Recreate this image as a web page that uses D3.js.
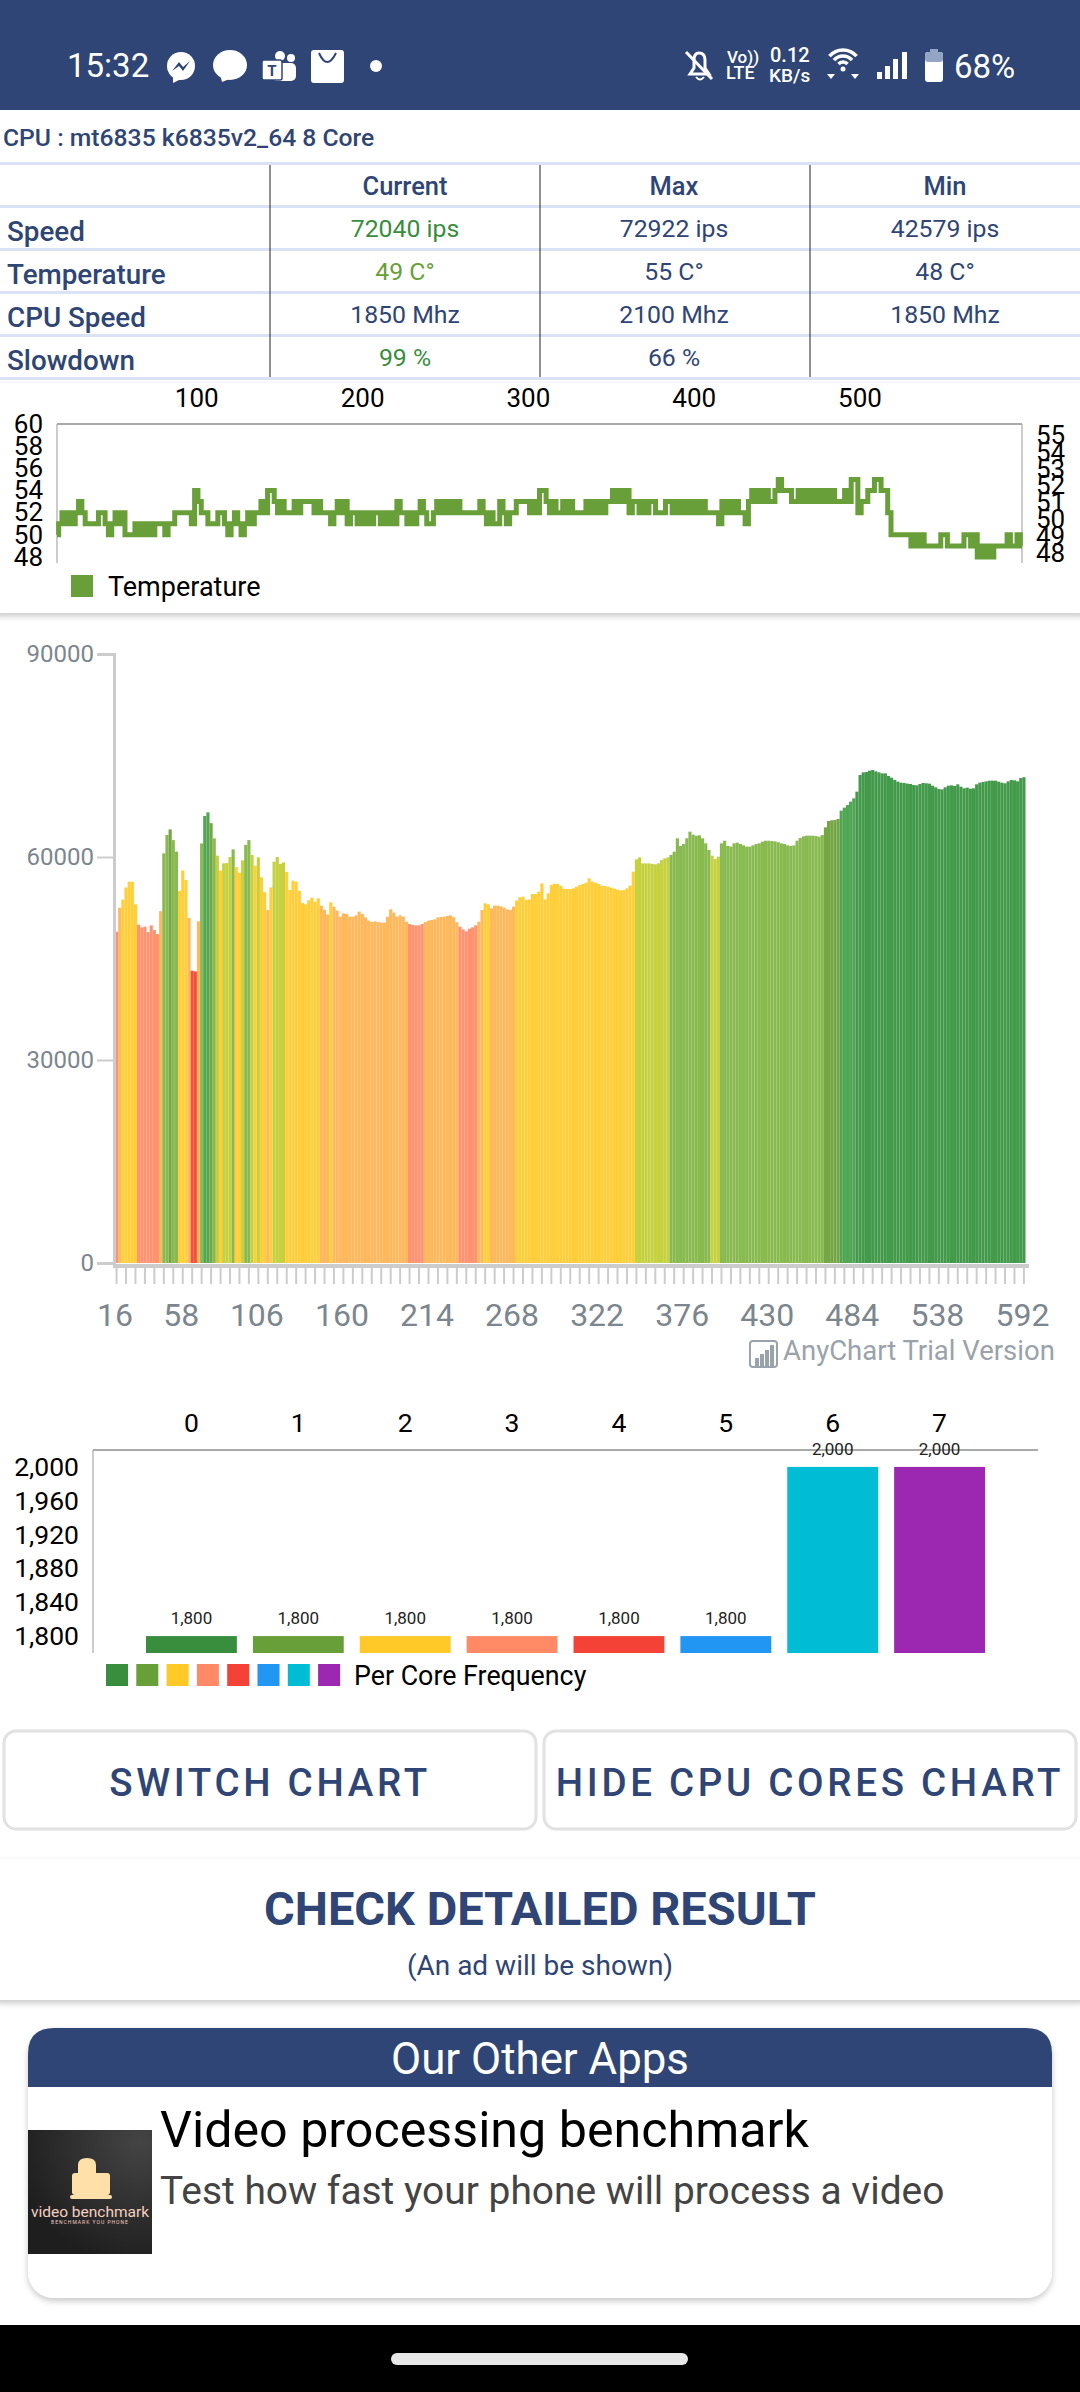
<!DOCTYPE html>
<html>
<head>
<meta charset="utf-8">
<script src="https://cdnjs.cloudflare.com/ajax/libs/d3/7.8.5/d3.min.js"></script>
<style>
  html, body { margin: 0; padding: 0; background: #fff; }
  svg { display: block; }
  text { font-family: Roboto, sans-serif; }
</style>
</head>
<body>
<svg id="page" width="1080" height="2392"></svg>
<script>
// table
const tableColumns = ['Current', 'Max', 'Min'];
const tableRows = ['Speed', 'Temperature', 'CPU Speed', 'Slowdown'];
const tableCurrent = ['72040 ips', '49 C°', '1850 Mhz', '99 %'];
const tableMax = ['72922 ips', '55 C°', '2100 Mhz', '66 %'];
const tableMin = ['42579 ips', '48 C°', '1850 Mhz', ''];

// temperature, one sample every 2 test steps from step 16
const tempValues = [
  50,51,52,51,52,51,52,53,52,51,51,51,51,52,52,51,50,51,52,51,
  52,50,50,50,51,50,51,50,51,50,51,51,51,50,51,51,52,52,52,52,
  52,51,54,53,52,52,51,51,51,52,52,51,50,51,52,51,50,51,52,51,
  52,52,53,52,54,54,53,52,53,52,52,52,53,52,53,53,53,53,52,53,
  52,52,52,51,52,53,52,53,51,52,52,51,52,51,52,51,52,52,
  51,52,51,52,51,53,52,52,51,52,51,52,53,52,51,51,52,53,52,53,
  52,53,52,53,52,52,52,52,52,52,53,52,51,52,51,51,53,52,51,52,
  52,53,53,53,53,52,53,52,54,54,53,52,53,52,52,53,52,53,52,52,
  52,52,53,52,53,52,53,52,53,53,54,53,54,53,54,52,53,53,52,53,
  52,53,53,52,52,52,53,53,52,53,52,53,52,53,52,53,52,53,52,52,
  52,52,51,53,52,53,52,53,52,52,51,53,54,53,54,53,54,53,53,54,
  55,54,54,54,53,53,54,53,54,53,54,53,54,53,54,53,54,53,53,53,
  54,53,55,55,52,53,53,54,54,55,55,54,54,52,50,50,50,50,50,50,
  49,50,49,50,49,49,49,49,49,50,50,49,49,49,49,49,50,50,49,50,
  48,49,48,49,48,49,49,49,49,50,49,49,50,49
];
const tempTicks = [100, 200, 300, 400, 500];
const tempLeftTicks = [60, 58, 56, 54, 52, 50, 48];
const tempRightTicks = [55, 54, 53, 52, 51, 50, 49, 48];

// speed in ips, one bar every 2 test steps from step 16
const speedValues = [
  48960,52500,53700,55500,56350,56350,53000,50000,49600,49700,
  48900,49900,49200,48600,52000,60540,63250,64080,62500,60800,
  55000,58000,56600,51000,43200,43100,50500,62000,66060,66600,
  65000,62750,60200,58000,59060,59100,60000,61130,58500,57680,
  59500,61800,62500,60290,58700,59950,57000,54800,52160,55500,
  59310,60000,59000,59200,57800,55120,56500,56350,55000,53200,
  53000,53600,54000,53400,53900,52800,52200,51500,
  53300,52660,52070,51180,51670,51580,51180,51180,51380,51920,
  51580,51080,50590,50400,50490,50400,50300,50300,51180,52270,
  51770,51180,51380,51180,50440,50100,49950,49900,49900,50100,
  50400,50590,50690,50790,51080,51130,51180,51280,51380,51080,
  50350,49700,49310,49010,49410,49600,49900,50440,52170,53150,
  53000,52410,52810,52810,52710,52510,52270,52170,52660,53550,
  54040,54140,53650,53740,54530,54530,54880,56100,53740,54630,
  55860,56060,56010,55720,55320,55270,55270,55370,55620,55860,
  56010,56210,
  56850,56350,56210,56010,55760,55710,55620,55470,55320,55170,
  55070,55120,55370,55760,57830,59650,59950,59060,59060,59060,
  58960,58920,59060,59560,59800,59950,60300,60790,62760,61630,
  61920,62760,63740,63300,63150,63200,62760,62020,61030,60200,
  59700,60050,62020,62410,61630,61530,62020,62120,61920,61720,
  61530,61530,61720,61920,62020,62270,62410,62410,62360,62310,
  62170,62020,61920,61720,61630,61720,62410,62810,63050,63150,
  63150,63150,63100,63000,63250,64380,65320,65420,65470,65620,
  66850,67290,67680,68180,68670,69660,72120,72510,72560,72760,
  72860,72660,72510,72360,72360,71970,71720,71380,71130,70980,
  70940,70840,70790,70640,70590,70790,70940,70890,70840,70540,
  70300,70050,70000,70300,70540,70590,70490,70740,70390,70150,
  70250,70100,70150,70740,70980,71080,71180,71280,71280,71280,
  71130,70980,70890,71180,71380,71330,71180,71670,71800
];
const speedSteps = speedValues.map((v, i) => 16 + i * 2);
const speedTicks = [0, 30000, 60000, 90000];
const speedLabels = [16, 58, 106, 160, 214, 268, 322, 376, 430, 484, 538, 592];
const speedBandLimits = [45000, 50200, 53000, 58800, 60300, 64000, 66000, 69600];

// per core
const coreIds = ['0', '1', '2', '3', '4', '5', '6', '7'];
const coreFreq = [1800, 1800, 1800, 1800, 1800, 1800, 2000, 2000];
const coreTicks = [1800, 1840, 1880, 1920, 1960, 2000];

const navy = '#2f4575';
const coreColors = ['#388e3c', '#689f38', '#ffca28', '#ff8a65', '#f44336', '#2196f3', '#00bcd4', '#9c27b0'];
const bandColors = ['#f44f3c', '#ff9270', '#ffb95c', '#ffce38', '#c6d140', '#88ba50', '#74a645', '#4fa653', '#439a4b'];

const svg = d3.select('#page');

function label(g, x, y, str, size, opts = {}) {
  return g.append('text')
    .attr('x', x).attr('y', y)
    .attr('font-size', size)
    .attr('font-weight', opts.weight || 400)
    .attr('fill', opts.fill || '#000')
    .attr('text-anchor', opts.anchor || 'start')
    .attr('letter-spacing', opts.spacing || null)
    .text(str);
}

const defs = svg.append('defs');
const shadow = defs.append('filter').attr('id', 'shadow')
  .attr('x', '-5%').attr('y', '-10%').attr('width', '110%').attr('height', '125%');
shadow.append('feDropShadow')
  .attr('dx', 0).attr('dy', 3).attr('stdDeviation', 3)
  .attr('flood-color', '#000').attr('flood-opacity', 0.22);

const thumbGrad = defs.append('radialGradient').attr('id', 'thumb').attr('cx', '90%').attr('cy', '10%').attr('r', '100%');
thumbGrad.append('stop').attr('offset', '0%').attr('stop-color', '#444');
thumbGrad.append('stop').attr('offset', '100%').attr('stop-color', '#1e1e1e');

drawStatusBar();
drawTable();
drawTemperature();
drawSpeed();
drawCores();
drawFooter();

function drawStatusBar() {
  const g = svg.append('g');
  g.append('rect').attr('width', 1080).attr('height', 110).attr('fill', navy);
  label(g, 67, 77, '15:32', 33, { fill: '#fff' });

  // messenger
  g.append('circle').attr('cx', 181).attr('cy', 66).attr('r', 14).attr('fill', '#fff');
  g.append('path').attr('d', 'M172,71 L179,62 L183,67 L190,61 L183,71 L179,66 Z').attr('fill', navy);
  g.append('path').attr('d', 'M173,76 L173,83 L181,79 Z').attr('fill', '#fff');
  // bubble
  g.append('ellipse').attr('cx', 230).attr('cy', 65).attr('rx', 17).attr('ry', 15).attr('fill', '#fff');
  g.append('path').attr('d', 'M220,74 L222,82 L232,78 Z').attr('fill', '#fff');
  // teams
  g.append('circle').attr('cx', 280).attr('cy', 56).attr('r', 5).attr('fill', '#fff');
  g.append('circle').attr('cx', 291).attr('cy', 58).attr('r', 4).attr('fill', '#fff');
  g.append('rect').attr('x', 272).attr('y', 63).attr('width', 24).attr('height', 18).attr('rx', 5).attr('fill', '#fff');
  g.append('rect').attr('x', 262).attr('y', 60).attr('width', 20).attr('height', 20).attr('rx', 2).attr('fill', '#fff').attr('stroke', navy).attr('stroke-width', 1.5);
  label(g, 272, 76, 'T', 15, { fill: navy, weight: 700, anchor: 'middle' });
  // store bag
  g.append('rect').attr('x', 311).attr('y', 50).attr('width', 33).attr('height', 33).attr('rx', 3).attr('fill', '#fff');
  g.append('path').attr('d', 'M319,53 Q327,71 336,53').attr('fill', 'none').attr('stroke', navy).attr('stroke-width', 2);
  // dot
  g.append('circle').attr('cx', 376).attr('cy', 66).attr('r', 6).attr('fill', '#fff');

  // muted bell
  g.append('path').attr('d', 'M690,74 L694,68 L694,60 Q694,53 699,53 Q705,53 705,60 L705,68 L709,74 Z')
    .attr('fill', 'none').attr('stroke', '#fff').attr('stroke-width', 3);
  g.append('line').attr('x1', 686).attr('y1', 52).attr('x2', 712).attr('y2', 79).attr('stroke', '#fff').attr('stroke-width', 3);
  g.append('path').attr('d', 'M696,77 Q700,82 704,77').attr('fill', 'none').attr('stroke', '#fff').attr('stroke-width', 2);

  label(g, 727, 63, 'Vo))', 17, { fill: '#fff', weight: 500 });
  label(g, 726, 79, 'LTE', 18, { fill: '#fff', weight: 500 });
  label(g, 770, 62, '0.12', 20, { fill: '#fff', weight: 500 });
  label(g, 769, 82, 'KB/s', 19, { fill: '#fff', weight: 500 });

  // wifi
  [[843, 68, 6], [843, 68, 12], [843, 68, 18]].forEach(([cx, cy, r]) => {
    const arc = d3.arc().innerRadius(r - 1.8).outerRadius(r + 1.8).startAngle(-0.85).endAngle(0.85);
    g.append('path').attr('transform', `translate(${cx},${cy})`).attr('d', arc()).attr('fill', '#fff');
  });
  g.append('circle').attr('cx', 843).attr('cy', 69).attr('r', 2.5).attr('fill', '#fff');
  g.append('path').attr('d', 'M827,74 L835,74 L831,79 Z M851,74 L859,74 L855,79 Z').attr('fill', '#fff');

  // signal
  [[877, 72], [885, 66], [893, 59], [902, 52]].forEach(([x, top]) => {
    g.append('rect').attr('x', x).attr('y', top).attr('width', 5).attr('height', 79 - top).attr('fill', '#fff');
  });

  // battery
  g.append('rect').attr('x', 925).attr('y', 52).attr('width', 18).attr('height', 30).attr('rx', 3).attr('fill', '#fff');
  g.append('rect').attr('x', 925).attr('y', 52).attr('width', 18).attr('height', 10).attr('rx', 3).attr('fill', '#93a4c4');
  g.append('rect').attr('x', 930).attr('y', 49).attr('width', 8).attr('height', 4).attr('fill', '#93a4c4');

  label(g, 954, 78, '68%', 33, { fill: '#fff' });
}

function drawTable() {
  const g = svg.append('g');
  label(g, 3, 146, 'CPU : mt6835 k6835v2_64 8 Core', 24.7, { fill: navy, weight: 500 });

  const lineY = d3.scaleLinear().domain([0, 5]).range([163.5, 378.5]);
  g.selectAll('.row-line').data(d3.range(6)).enter().append('line')
    .attr('x1', 0).attr('x2', 1080)
    .attr('y1', d => lineY(d)).attr('y2', d => lineY(d))
    .attr('stroke', '#d9e2f6').attr('stroke-width', 3);

  [270, 540, 810].forEach(x => {
    g.append('line').attr('x1', x).attr('x2', x).attr('y1', 165).attr('y2', 377)
      .attr('stroke', '#222').attr('stroke-width', 1);
  });

  const colX = [405, 674, 945];
  tableColumns.forEach((c, i) => label(g, colX[i], 195, c, 25.5, { fill: navy, weight: 500, anchor: 'middle' }));
  tableRows.forEach((r, i) => label(g, 7, 241 + i * 43, r, 27.8, { fill: navy, weight: 500 }));

  const currentColors = ['#388e3c', '#689f38', navy, '#388e3c'];
  [tableCurrent, tableMax, tableMin].forEach((col, c) => {
    col.forEach((v, i) => {
      label(g, colX[c], 237 + i * 43, v, 24.8, { fill: c === 0 ? currentColors[i] : navy, anchor: 'middle' });
    });
  });
}

function drawTemperature() {
  const g = svg.append('g');
  g.append('rect').attr('x', -20).attr('y', 383).attr('width', 1120).attr('height', 230).attr('rx', 20)
    .attr('fill', '#fff').attr('filter', 'url(#shadow)');
  g.append('rect').attr('x', 0).attr('y', 383).attr('width', 1080).attr('height', 230).attr('rx', 20).attr('fill', '#fff');

  const x = d3.scaleLinear().domain([16, 598]).range([57, 1022]);
  const y = d3.scaleLinear().domain([60, 48]).range([424, 557]);
  const yRight = d3.scaleLinear().domain([55, 48]).range([435, 553]);

  g.append('line').attr('x1', 57).attr('x2', 1022).attr('y1', 424).attr('y2', 424).attr('stroke', '#aaa').attr('stroke-width', 2);
  [57, 1022].forEach(px => {
    g.append('line').attr('x1', px).attr('x2', px).attr('y1', 424).attr('y2', 563).attr('stroke', '#999').attr('stroke-width', 1);
  });

  const top = g.append('g').attr('transform', 'translate(0,424)')
    .call(d3.axisTop(x).tickValues(tempTicks).tickSize(0).tickPadding(17));
  const left = g.append('g').attr('transform', 'translate(57,0)')
    .call(d3.axisLeft(y).tickValues(tempLeftTicks).tickSize(0).tickPadding(14));
  const right = g.append('g').attr('transform', 'translate(1022,0)')
    .call(d3.axisRight(yRight).tickValues(tempRightTicks).tickSize(0).tickPadding(14).tickFormat(d3.format('d')));
  [top, left, right].forEach(a => {
    a.select('.domain').remove();
    a.attr('font-size', 26).attr('font-family', 'Roboto, sans-serif');
    a.selectAll('text').attr('fill', '#000');
  });

  const line = d3.line().curve(d3.curveStep).x((d, i) => x(16 + i * 2)).y(d => y(d));
  g.append('path').datum(tempValues)
    .attr('d', line)
    .attr('fill', 'none')
    .attr('stroke', '#689f38')
    .attr('stroke-width', 5);

  g.append('rect').attr('x', 71).attr('y', 575).attr('width', 22).attr('height', 22).attr('fill', '#689f38');
  label(g, 108, 596, 'Temperature', 27);
}

function drawSpeed() {
  const g = svg.append('g');
  const x = d3.scaleBand().domain(speedSteps).range([115, 1025.5]);
  const y = d3.scaleLinear().domain([0, 90000]).range([1263, 654]);
  const color = d3.scaleThreshold().domain(speedBandLimits).range(bandColors);

  g.selectAll('.bar').data(speedValues).enter().append('rect')
    .attr('class', 'bar')
    .attr('x', (d, i) => x(speedSteps[i]))
    .attr('y', d => y(d))
    .attr('width', x.bandwidth())
    .attr('height', d => y(0) - y(d))
    .attr('fill', d => color(d));

  const left = g.append('g').attr('transform', 'translate(114,0)')
    .call(d3.axisLeft(y).tickValues(speedTicks).tickSize(17).tickPadding(3).tickFormat(d3.format('d')));
  left.attr('font-size', 24).attr('font-family', 'Roboto, sans-serif');
  left.select('.domain').attr('stroke', '#ccc').attr('stroke-width', 3);
  left.selectAll('line').attr('stroke', '#ccc').attr('stroke-width', 2);
  left.selectAll('text').attr('fill', '#7c868e');

  const tickSteps = speedSteps.filter((d, i) => i % 3 === 0);
  const bottom = g.append('g').attr('transform', 'translate(0,1266)')
    .call(d3.axisBottom(x).tickValues(tickSteps).tickSize(18).tickPadding(19.5)
      .tickFormat(d => speedLabels.includes(d) ? d : ''));
  bottom.attr('font-size', 32).attr('font-family', 'Roboto, sans-serif');
  bottom.select('.domain').attr('stroke', '#ccc').attr('stroke-width', 4).attr('d', 'M113,0H1029');
  bottom.selectAll('line').attr('stroke', '#ccc').attr('stroke-width', 2);
  bottom.selectAll('text').attr('fill', '#7c868e').attr('dx', -1.5);

  // trial mark
  const mark = g.append('g');
  mark.append('rect').attr('x', 750).attr('y', 1341).attr('width', 27).attr('height', 26).attr('rx', 3)
    .attr('fill', '#fff').attr('stroke', '#9aa3aa').attr('stroke-width', 2);
  [[755, 1358], [760, 1354], [765, 1350], [770, 1345]].forEach(([px, top]) => {
    mark.append('rect').attr('x', px).attr('y', top).attr('width', 4).attr('height', 1366 - top).attr('fill', '#9aa3aa');
  });
  label(mark, 783, 1360, 'AnyChart Trial Version', 27.5, { fill: '#9aa3aa' });
}

function drawCores() {
  const g = svg.append('g');
  const x = d3.scaleBand().domain(coreIds).range([138, 993]).paddingInner(0.15).paddingOuter(0.075);
  const y = d3.scaleLinear().domain([1780, 2020]).range([1653, 1450]);

  g.append('line').attr('x1', 93).attr('x2', 1038).attr('y1', 1450).attr('y2', 1450).attr('stroke', '#aaa').attr('stroke-width', 2);
  g.append('line').attr('x1', 93).attr('x2', 93).attr('y1', 1450).attr('y2', 1653).attr('stroke', '#999').attr('stroke-width', 1);

  g.selectAll('.core').data(coreFreq).enter().append('rect')
    .attr('class', 'core')
    .attr('x', (d, i) => x(coreIds[i]))
    .attr('y', d => y(d))
    .attr('width', x.bandwidth())
    .attr('height', d => y(1780) - y(d))
    .attr('fill', (d, i) => coreColors[i]);

  g.selectAll('.core-value').data(coreFreq).enter().append('text')
    .attr('class', 'core-value')
    .attr('x', (d, i) => x(coreIds[i]) + x.bandwidth() / 2)
    .attr('y', d => y(d) - 12)
    .attr('text-anchor', 'middle')
    .attr('font-size', 17)
    .attr('fill', '#222')
    .text(d3.format(','));

  const top = g.append('g').attr('transform', 'translate(0,1450)')
    .call(d3.axisTop(x).tickSize(0).tickPadding(18));
  const left = g.append('g').attr('transform', 'translate(93,0)')
    .call(d3.axisLeft(y).tickValues(coreTicks).tickSize(0).tickPadding(14).tickFormat(d3.format(',')));
  [top, left].forEach(a => {
    a.select('.domain').remove();
    a.attr('font-size', 26.5).attr('font-family', 'Roboto, sans-serif');
    a.selectAll('text').attr('fill', '#000');
  });

  g.selectAll('.core-key').data(coreColors).enter().append('rect')
    .attr('class', 'core-key')
    .attr('x', (d, i) => 106 + i * 30.3)
    .attr('y', 1664)
    .attr('width', 22)
    .attr('height', 22)
    .attr('fill', d => d);
  label(g, 354, 1685, 'Per Core Frequency', 26.8);
}

function drawFooter() {
  const g = svg.append('g');

  [[4, 532, 'SWITCH CHART', 270], [544, 532, 'HIDE CPU CORES CHART', 810]].forEach(([bx, bw, str, cx]) => {
    g.append('rect').attr('x', bx).attr('y', 1731).attr('width', bw).attr('height', 98).attr('rx', 12)
      .attr('fill', '#fff').attr('stroke', '#e2e2e2').attr('stroke-width', 3);
    label(g, cx, 1796, str, 38.5, { fill: navy, weight: 500, anchor: 'middle', spacing: 3.7 });
  });

  g.append('rect').attr('x', -10).attr('y', 1859).attr('width', 1100).attr('height', 141).attr('rx', 8)
    .attr('fill', '#fff').attr('filter', 'url(#shadow)');
  label(g, 540, 1925, 'CHECK DETAILED RESULT', 47, { fill: navy, weight: 700, anchor: 'middle' });
  label(g, 540, 1975, '(An ad will be shown)', 28, { fill: navy, anchor: 'middle' });

  g.append('rect').attr('x', 28).attr('y', 2028).attr('width', 1024).attr('height', 270).attr('rx', 26)
    .attr('fill', '#fff').attr('filter', 'url(#shadow)');
  g.append('path').attr('d', 'M28,2087 V2054 Q28,2028 54,2028 H1026 Q1052,2028 1052,2054 V2087 Z').attr('fill', navy);
  label(g, 540, 2074, 'Our Other Apps', 43.8, { fill: '#fff', anchor: 'middle' });

  g.append('rect').attr('x', 28).attr('y', 2130).attr('width', 124).attr('height', 124).attr('fill', 'url(#thumb)');
  g.append('path').attr('d', 'M78,2180 V2165 Q78,2158 87,2158 Q96,2158 96,2165 V2180 Z').attr('fill', '#ffe0a8');
  g.append('rect').attr('x', 72).attr('y', 2173).attr('width', 38).attr('height', 22).attr('rx', 3).attr('fill', '#ffe0a8');
  g.append('rect').attr('x', 70).attr('y', 2195).attr('width', 42).attr('height', 4).attr('rx', 2).attr('fill', '#ffe0a8');
  label(g, 90, 2217, 'video benchmark', 15.5, { fill: '#f5cfc0', anchor: 'middle' });
  label(g, 90, 2224, 'BENCHMARK YOU PHONE', 5, { fill: '#f5cfc0', anchor: 'middle', spacing: 1 });

  label(g, 160, 2147, 'Video processing benchmark', 50.2);
  label(g, 160, 2204, 'Test how fast your phone will process a video', 38.9, { fill: '#444' });

  g.append('rect').attr('x', 0).attr('y', 2325).attr('width', 1080).attr('height', 67).attr('fill', '#000');
  g.append('rect').attr('x', 391).attr('y', 2353).attr('width', 297).attr('height', 12).attr('rx', 6).attr('fill', '#e8e8e8');
}
</script>
</body>
</html>
